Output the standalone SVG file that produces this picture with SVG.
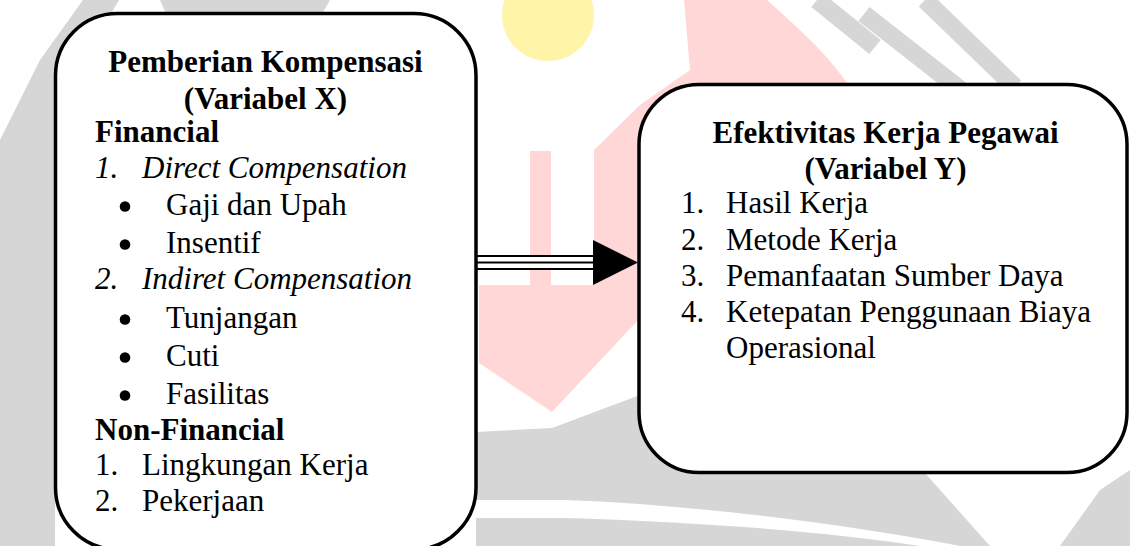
<svg xmlns="http://www.w3.org/2000/svg" width="1130" height="546" viewBox="0 0 1130 546">
<style>
.t{font-family:"Liberation Serif","Times New Roman",serif;font-size:31px;fill:#000}
.b{font-weight:bold}
.i{font-style:italic}
.c{text-anchor:middle}
.box{fill:#fff;stroke:#000;stroke-width:3.5}
.wg{fill:#d6d6d6}
.ws{stroke:#d6d6d6;stroke-width:18;fill:none}
</style>
<defs>
<circle id="dot" r="5.3" fill="#000"/>
</defs>
<rect width="1130" height="546" fill="#fff"/>
<g id="watermark">
<path class="wg" d="M83,0 L119,0 L56,110 L55,546 L0,546 L0,140 L40,60 Z"/>
<path class="wg" d="M160,0 L330,0 L322,14 L168,18 Z"/>
<line class="ws" x1="817" y1="0" x2="875" y2="47"/>
<line class="ws" x1="864" y1="14" x2="961" y2="90"/>
<line class="ws" x1="925" y1="0" x2="1015" y2="87"/>
<path class="wg" d="M476,432 L552,428 L640,395 L925,473 L990,546 L960,546 C850,525 700,505 565,500 L476,500 Z"/>
<path class="wg" d="M476,518 L565,518 C700,522 830,532 920,546 L476,546 Z"/>
<path class="wg" d="M1060,546 L1100,490 L1130,470 L1130,546 Z"/>
<circle cx="548" cy="15" r="46" fill="#fff4a8"/>
<path fill="#ffd7d7" d="M684,0 L767,0 C800,30 830,55 855,95 L860,300 L640,318 L552,412 L479,363 L479,285 L530,285 L530,151 L551,151 L551,285 L594,285 L594,150 L640,105 L690,70 Z"/>
</g>
<g id="connectors">
<rect x="476" y="256" width="120" height="13" fill="#fff"/>
<line x1="476" y1="256" x2="596" y2="256" stroke="#000" stroke-width="2"/>
<line x1="476" y1="262.5" x2="596" y2="262.5" stroke="#000" stroke-width="2"/>
<line x1="476" y1="269" x2="596" y2="269" stroke="#000" stroke-width="2"/>
<polygon points="593,240 638,262.5 593,285" fill="#000"/>
</g>
<g id="node-x">
<rect class="box" x="55.5" y="13.5" width="420.5" height="536" rx="62" ry="62"/>
<text class="t b c" x="265.5" y="72">Pemberian Kompensasi</text>
<text class="t b c" x="265.5" y="108.5">(Variabel X)</text>
<text class="t b" x="95" y="142">Financial</text>
<text class="t i" x="95" y="178">1.</text>
<text class="t i" x="142" y="178">Direct Compensation</text>
<use href="#dot" x="125" y="206.5"/>
<text class="t" x="166" y="215">Gaji dan Upah</text>
<use href="#dot" x="125" y="244.5"/>
<text class="t" x="166" y="253">Insentif</text>
<text class="t i" x="95" y="289">2.</text>
<text class="t i" x="142" y="289">Indiret Compensation</text>
<use href="#dot" x="125" y="319.5"/>
<text class="t" x="166" y="328">Tunjangan</text>
<use href="#dot" x="125" y="357.5"/>
<text class="t" x="166" y="366">Cuti</text>
<use href="#dot" x="125" y="395.5"/>
<text class="t" x="166" y="404">Fasilitas</text>
<text class="t b" x="95" y="440">Non-Financial</text>
<text class="t" x="95" y="475">1.</text>
<text class="t" x="142" y="475">Lingkungan Kerja</text>
<text class="t" x="95" y="511">2.</text>
<text class="t" x="142" y="511">Pekerjaan</text>
</g>
<g id="node-y">
<rect class="box" x="639" y="84.5" width="488" height="388" rx="60" ry="60"/>
<text class="t b c" x="885.5" y="142.5">Efektivitas Kerja Pegawai</text>
<text class="t b c" x="885.5" y="179">(Variabel Y)</text>
<text class="t" x="681" y="213">1.</text>
<text class="t" x="726" y="213">Hasil Kerja</text>
<text class="t" x="681" y="249.5">2.</text>
<text class="t" x="726" y="249.5">Metode Kerja</text>
<text class="t" x="681" y="286">3.</text>
<text class="t" x="726" y="286">Pemanfaatan Sumber Daya</text>
<text class="t" x="681" y="322">4.</text>
<text class="t" x="726" y="322">Ketepatan Penggunaan Biaya</text>
<text class="t" x="726" y="358">Operasional</text>
</g>
</svg>
